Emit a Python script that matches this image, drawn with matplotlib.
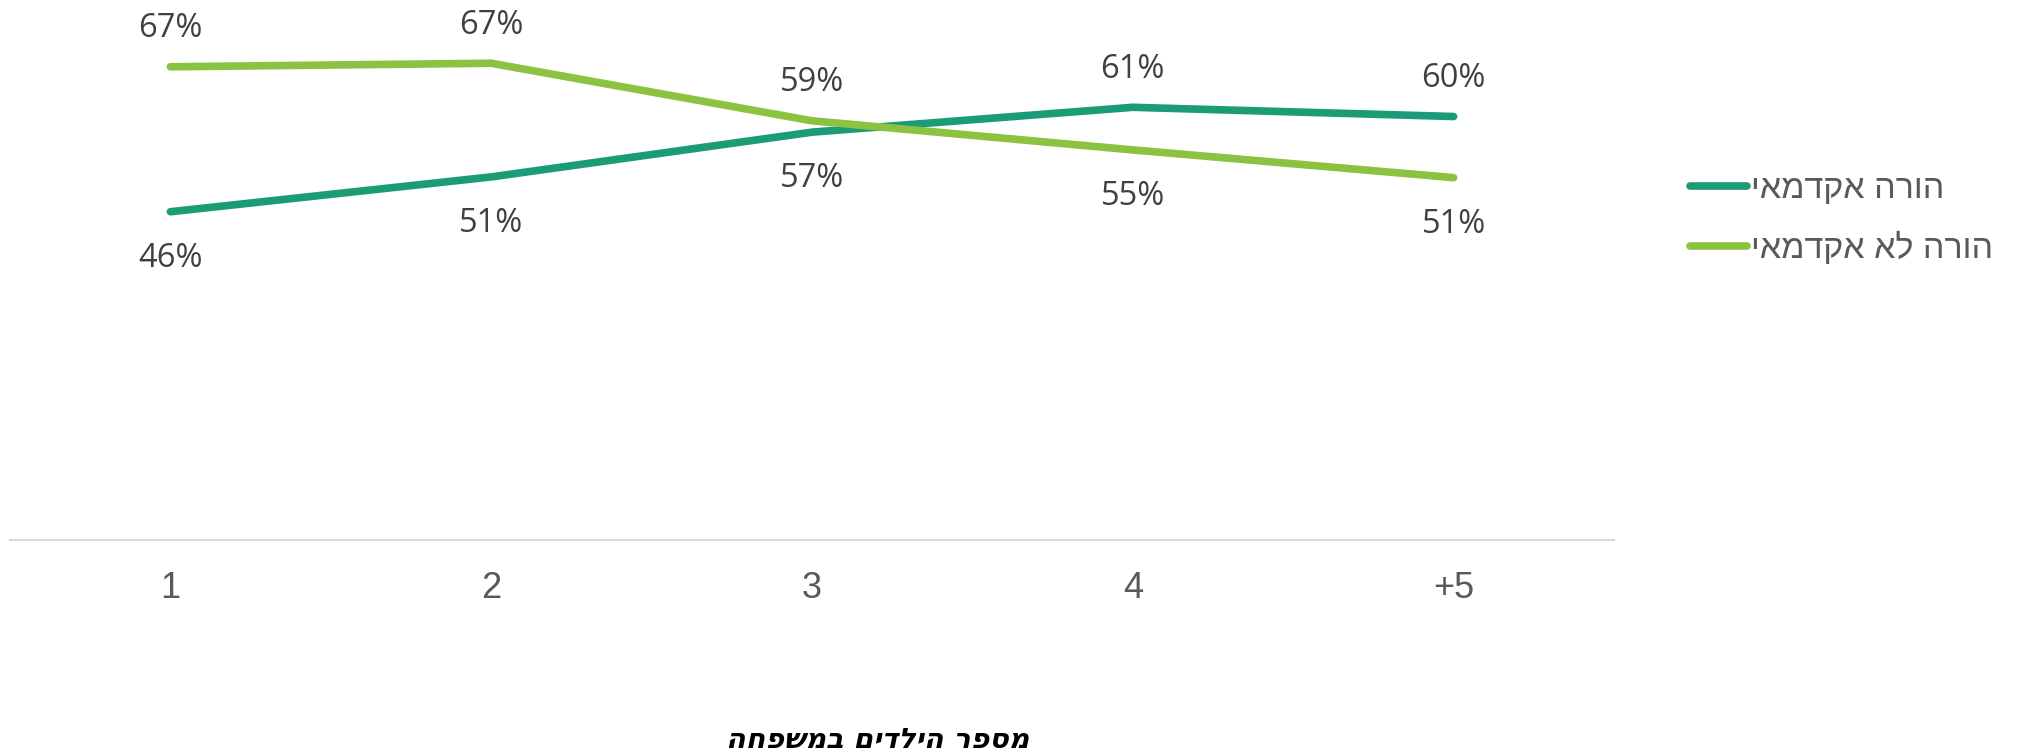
import matplotlib
matplotlib.use("Agg")
import matplotlib.pyplot as plt

categories = ["1", "2", "3", "4", "+5"]
academic = [0.462, 0.511, 0.574, 0.609, 0.596]
non_academic = [0.666, 0.671, 0.590, 0.549, 0.510]
series_names = ["הורה אקדמאי", "הורה לא אקדמאי"]
x_title = "מספר הילדים במשפחה"

colors = ["#1C9B77", "#8BC242"]

def rtl(s):
    return s[::-1]

fig = plt.figure(figsize=(20.19, 7.54), dpi=100)
W, H = 2019, 754
ax = fig.add_axes([10 / W, (H - 540) / H, (1614 - 10) / W, 540 / H])

xs = list(range(len(categories)))
series = [academic, non_academic]
for vals, col, name in zip(series, colors, series_names):
    ax.plot(xs, vals, color=col, lw=5.5, solid_capstyle="round",
            solid_joinstyle="round", label=rtl(name))

for i in xs:
    a, b = academic[i], non_academic[i]
    for v, other in ((a, b), (b, a)):
        above = v > other
        ax.annotate(f"{round(v * 100):d}%", (i, v),
                    xytext=(0, 27.5 if above else -33.5), textcoords="offset points",
                    ha="center", va="center", fontsize=23.5, color="#404040",
                    family=["Open Sans", "DejaVu Sans"])

ax.set_xlim(-0.5, len(categories) - 0.5)
ax.set_ylim(0, 0.76)
ax.set_yticks([])
ax.set_xticks(xs)
ax.set_xticklabels(categories, fontsize=26, color="#595959",
                   family=["Liberation Sans", "DejaVu Sans"])
ax.tick_params(axis="x", length=0, pad=22)
for s in ["top", "left", "right"]:
    ax.spines[s].set_visible(False)
ax.spines["bottom"].set_color("#D9D9D9")
ax.spines["bottom"].set_linewidth(1.5)

leg = ax.legend(loc="upper left", bbox_to_anchor=(1659 / W, (H - 143) / H),
                bbox_transform=fig.transFigure, frameon=False,
                prop={"family": ["Liberation Sans", "DejaVu Sans"], "size": 24.5},
                handlelength=1.68, handletextpad=0.12, labelspacing=0.79)
for t in leg.get_texts():
    t.set_color("#595959")
for h in leg.get_lines():
    h.set_linewidth(5.5)
    h.set_solid_capstyle("round")

fig.text(878 / W, (H - 740) / H, rtl(x_title), ha="center", va="center",
         fontsize=20.5, fontweight="bold", fontstyle="italic", color="black",
         family=["DejaVu Sans"])

fig.savefig("out.png", dpi=100, facecolor="white")
